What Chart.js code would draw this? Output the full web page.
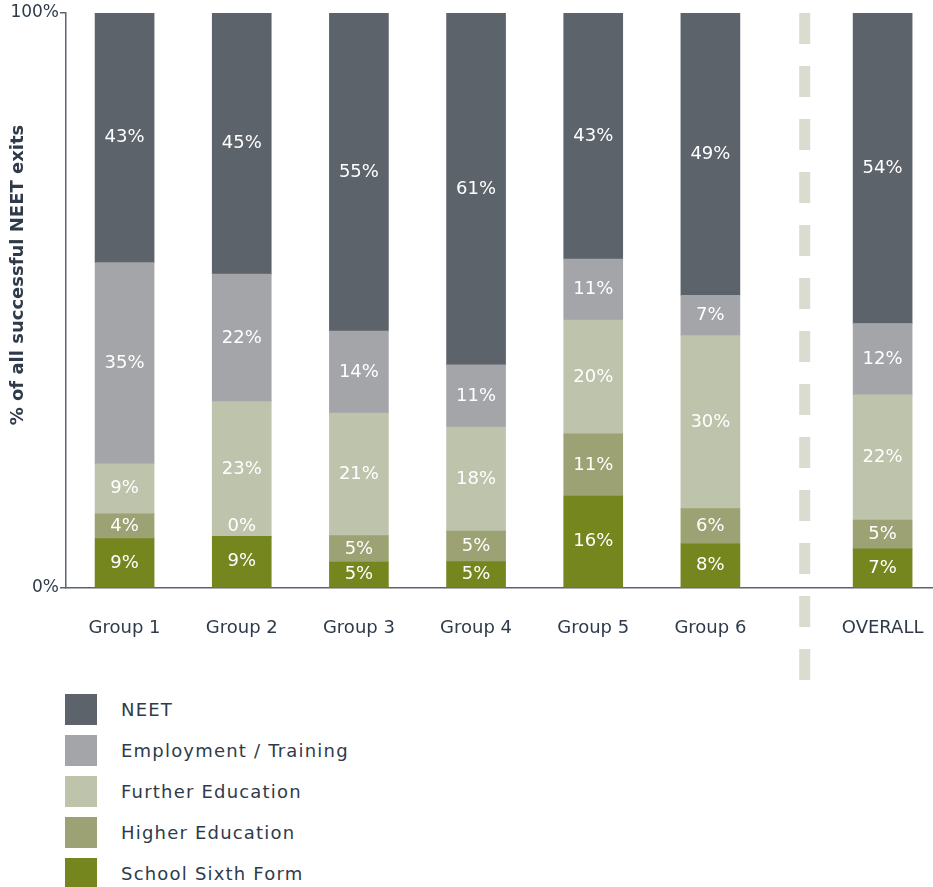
<!DOCTYPE html>
<html>
<head>
<meta charset="utf-8">
<script src="https://cdn.jsdelivr.net/npm/chart.js@4.4.0/dist/chart.umd.min.js"></script>
<style>
  html, body { margin: 0; padding: 0; background: #fff; }
  body { width: 933px; height: 887px; position: relative; overflow: hidden; font-family: 'DejaVu Sans', sans-serif; }
  #wrap { position: absolute; left: 0; top: 0; width: 933px; height: 690px; }
  #legend { position: absolute; left: 65px; top: 694px; }
  .item { display: flex; align-items: center; height: 31px; margin-bottom: 10px; }
  .box { width: 32px; height: 31px; margin-right: 24px; }
  .item span { font-size: 18px; letter-spacing: 1.2px; color: #2f3b4a; }
</style>
</head>
<body>
<div id="wrap"><canvas id="chart"></canvas></div>
<div id="legend"></div>
<script>
// Categories and series (percent of all successful NEET exits)
const categories = ['Group 1', 'Group 2', 'Group 3', 'Group 4', 'Group 5', 'Group 6', 'OVERALL'];
const neet       = [43.4, 45.4, 55.3, 61.2, 42.8, 49.1, 54.0];
const employment = [35.0, 22.2, 14.3, 10.8, 10.6, 7.0, 12.4];
const further    = [8.7, 23.4, 21.3, 18.1, 19.8, 30.1, 21.8];
const higher     = [4.3, 0, 4.6, 5.3, 10.8, 6.1, 5.0];
const sixthForm  = [8.6, 9.0, 4.5, 4.6, 16.0, 7.7, 6.8];
const yTicks = [0, 100];
const yTitle = '% of all successful NEET exits';

const colors = {
    neet: '#5c636b',
    employment: '#a4a5a8',
    further: '#bec3ab',
    higher: '#9ca273',
    sixth: '#76861e',
    text: '#2f3b4a',
    axis: '#5a6470',
    divider: '#d9dccf'
};

// OVERALL sits about half a slot further right, after the divider
const slots = categories.map((c, i) => c === 'OVERALL' ? i + 0.47 : i);

function series(values) {
    return values.map((v, i) => ({ x: slots[i], y: v }));
}

const seriesDefs = [
    { label: 'School Sixth Form', values: sixthForm, color: colors.sixth },
    { label: 'Higher Education', values: higher, color: colors.higher },
    { label: 'Further Education', values: further, color: colors.further },
    { label: 'Employment / Training', values: employment, color: colors.employment },
    { label: 'NEET', values: neet, color: colors.neet }
];

// Value labels in the middle of each segment
const segmentLabels = {
    id: 'segmentLabels',
    afterDatasetsDraw(chart) {
        const ctx = chart.ctx;
        ctx.save();
        ctx.fillStyle = '#fff';
        ctx.font = '18px "DejaVu Sans"';
        ctx.textAlign = 'center';
        ctx.textBaseline = 'middle';
        chart.data.datasets.forEach((ds, di) => {
            chart.getDatasetMeta(di).data.forEach((el, i) => {
                const v = ds.data[i].y;
                let y = (el.y + el.base) / 2;
                if (v === 0) y -= 10;
                ctx.fillText(Math.round(v) + '%', el.x, y);
            });
        });
        ctx.restore();
    }
};

// Dashed divider between Group 6 and OVERALL, plus the rotated y title
const divider = {
    id: 'divider',
    beforeDatasetsDraw(chart) {
        const ctx = chart.ctx;
        const xs = chart.scales.x;
        const x = xs.getPixelForValue((slots[5] + slots[6]) / 2 + 0.07);
        ctx.save();
        ctx.strokeStyle = colors.divider;
        ctx.lineWidth = 11;
        ctx.setLineDash([31, 22]);
        ctx.beginPath();
        ctx.moveTo(x, chart.chartArea.top);
        ctx.lineTo(x, 680);
        ctx.stroke();
        ctx.restore();

        ctx.save();
        ctx.translate(18, 275);
        ctx.rotate(-Math.PI / 2);
        ctx.fillStyle = colors.text;
        ctx.font = 'bold 18px "DejaVu Sans"';
        ctx.textAlign = 'center';
        ctx.textBaseline = 'middle';
        ctx.fillText(yTitle, 0, 0);
        ctx.restore();
    }
};

new Chart(document.getElementById('chart'), {
    type: 'bar',
    data: {
        datasets: seriesDefs.map(s => ({
            label: s.label,
            data: series(s.values),
            backgroundColor: s.color,
            borderWidth: 0,
            barThickness: 59
        }))
    },
    options: {
        responsive: true,
        maintainAspectRatio: false,
        animation: false,
        layout: { padding: { top: 13, right: 0 } },
        plugins: {
            legend: { display: false },
            tooltip: { enabled: false }
        },
        scales: {
            x: {
                type: 'linear',
                stacked: true,
                offset: false,
                min: -0.5,
                max: 6.9,
                afterBuildTicks: scale => { scale.ticks = slots.map(v => ({ value: v })); },
                afterFit: scale => { scale.height = 102; scale.paddingRight = 0; scale.paddingLeft = 0; },
                grid: { display: false },
                border: { color: colors.axis, width: 1.5 },
                ticks: {
                    autoSkip: false,
                    maxRotation: 0,
                    padding: 22,
                    color: colors.text,
                    font: { family: 'DejaVu Sans', size: 18 },
                    callback: v => categories[slots.indexOf(v)]
                }
            },
            y: {
                stacked: true,
                min: 0,
                max: 100,
                afterBuildTicks: scale => { scale.ticks = yTicks.map(v => ({ value: v })); },
                afterFit: scale => { scale.width = 66; scale.paddingTop = 0; scale.paddingBottom = 0; },
                grid: { drawOnChartArea: false, drawTicks: true, tickLength: 6, color: colors.axis, lineWidth: 1.5 },
                border: { color: colors.axis, width: 1.5 },
                ticks: {
                    padding: 1,
                    color: colors.text,
                    font: { family: 'DejaVu Sans', size: 17 },
                    callback: v => v + '%'
                }
            }
        }
    },
    plugins: [divider, segmentLabels]
});

// Legend column, top to bottom
const legend = document.getElementById('legend');
seriesDefs.slice().reverse().forEach(s => {
    const row = document.createElement('div');
    row.className = 'item';
    row.innerHTML = `<div class="box" style="background:${s.color}"></div><span>${s.label}</span>`;
    legend.appendChild(row);
});
</script>
</body>
</html>
